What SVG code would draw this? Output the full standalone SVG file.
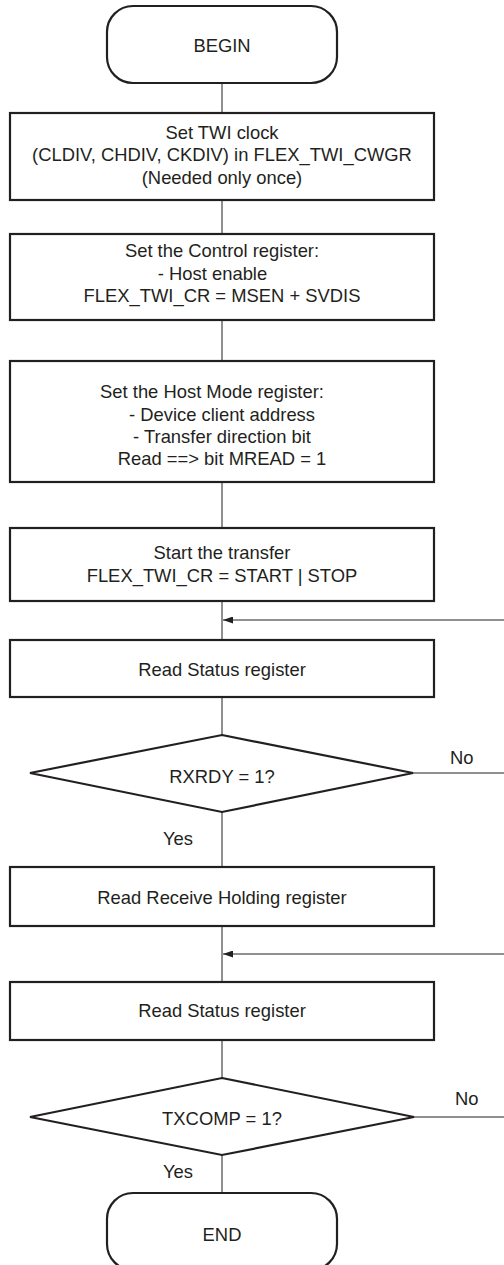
<svg xmlns="http://www.w3.org/2000/svg" width="504" height="1265" viewBox="0 0 504 1265">
<style>
.box{fill:#fff;stroke:#231f20;stroke-width:2.2}
.line{fill:none;stroke:#231f20;stroke-width:1}
text{font-family:"Liberation Sans",Arial,sans-serif;font-size:18.4px;fill:#231f20}
.c{text-anchor:middle}
</style>
<defs>
<marker id="arr" markerWidth="10" markerHeight="7" refX="10" refY="3.5" orient="auto" markerUnits="userSpaceOnUse">
<path d="M0,0 L10,3.5 L0,7 Z" fill="#231f20"/>
</marker>
</defs>
<rect width="504" height="1265" fill="#fff"/>
<g id="connectors">
<line class="line" x1="222" y1="83" x2="222" y2="113"/>
<line class="line" x1="222" y1="200" x2="222" y2="234"/>
<line class="line" x1="222" y1="320" x2="222" y2="361"/>
<line class="line" x1="222" y1="482" x2="222" y2="528"/>
<line class="line" x1="222" y1="601" x2="222" y2="640"/>
<line class="line" x1="222" y1="697" x2="222" y2="735"/>
<line class="line" x1="222" y1="812" x2="222" y2="867"/>
<line class="line" x1="222" y1="926" x2="222" y2="982"/>
<line class="line" x1="222" y1="1040" x2="222" y2="1078"/>
<line class="line" x1="222" y1="1155" x2="222" y2="1193"/>
<line class="line" x1="504" y1="620" x2="223" y2="620" marker-end="url(#arr)"/>
<line class="line" x1="504" y1="954" x2="223" y2="954" marker-end="url(#arr)"/>
<line class="line" x1="413" y1="773" x2="504" y2="773"/>
<line class="line" x1="414" y1="1117" x2="504" y2="1117"/>
<text x="450" y="764">No</text>
<text x="455" y="1105">No</text>
<text x="163" y="845">Yes</text>
<text x="163" y="1178">Yes</text>
</g>
<g id="begin">
<rect class="box" x="107" y="6" width="230" height="77" rx="26"/>
<text class="c" x="222" y="51.5">BEGIN</text>
</g>
<g id="set-clock">
<rect class="box" x="10" y="113" width="424" height="87"/>
<text class="c" x="222" y="138.5">Set TWI clock</text>
<text class="c" x="222" y="161">(CLDIV, CHDIV, CKDIV) in FLEX_TWI_CWGR</text>
<text class="c" x="222" y="183.5">(Needed only once)</text>
</g>
<g id="control-reg">
<rect class="box" x="10" y="234" width="424" height="86"/>
<text class="c" x="222" y="257">Set the Control register:</text>
<text class="c" x="212.5" y="279.5">- Host enable</text>
<text class="c" x="222" y="302">FLEX_TWI_CR = MSEN + SVDIS</text>
</g>
<g id="host-mode">
<rect class="box" x="10" y="361" width="424" height="121"/>
<text class="c" x="212" y="398">Set the Host Mode register:</text>
<text class="c" x="222" y="420.5">- Device client address</text>
<text class="c" x="222" y="442.5">- Transfer direction bit</text>
<text class="c" x="222" y="465">Read ==&gt; bit MREAD = 1</text>
</g>
<g id="start-transfer">
<rect class="box" x="10" y="528" width="424" height="73"/>
<text class="c" x="222" y="559">Start the transfer</text>
<text class="c" x="222" y="581.5">FLEX_TWI_CR = START | STOP</text>
</g>
<g id="read-status-1">
<rect class="box" x="10" y="640" width="424" height="57"/>
<text class="c" x="222" y="675.5">Read Status register</text>
</g>
<g id="rxrdy">
<polygon class="box" points="222,735 413,773 222,812 30,773"/>
<text class="c" x="222" y="782.5">RXRDY = 1?</text>
</g>
<g id="read-rhr">
<rect class="box" x="10" y="867" width="424" height="59"/>
<text class="c" x="222" y="904">Read Receive Holding register</text>
</g>
<g id="read-status-2">
<rect class="box" x="10" y="982" width="424" height="58"/>
<text class="c" x="222" y="1017">Read Status register</text>
</g>
<g id="txcomp">
<polygon class="box" points="222,1078 414,1117 222,1155 30,1117"/>
<text class="c" x="222" y="1125">TXCOMP = 1?</text>
</g>
<g id="end">
<rect class="box" x="107" y="1193" width="230" height="77" rx="26"/>
<text class="c" x="222" y="1240.5">END</text>
</g>
</svg>
